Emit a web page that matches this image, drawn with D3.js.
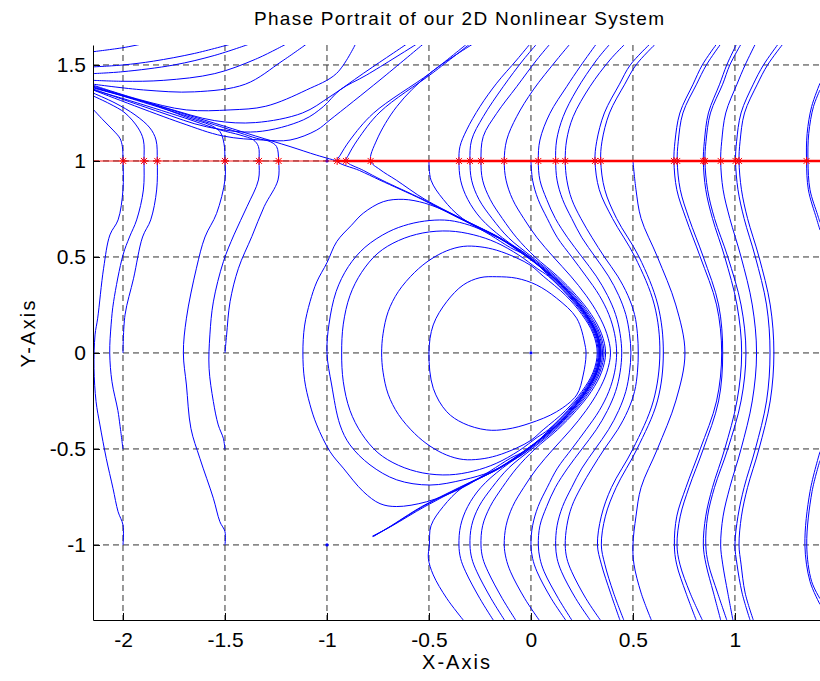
<!DOCTYPE html>
<html>
<head>
<meta charset="utf-8">
<title>Phase Portrait</title>
<script src="https://d3js.org/d3.v7.min.js"></script>
<style>
  body { margin: 0; background: #fff; }
  svg  { display: block; }
  text { font-family: Arial, "Liberation Sans", Helvetica, sans-serif; fill: #000; }
</style>
</head>
<body>
<svg id="chart" width="820" height="681"></svg>
<script>
/* ---------- axis limits & ticks ---------- */
const xLimits = [-2.147, 1.417];
const yLimits = [-1.391, 1.604];
const xTicks  = [-2, -1.5, -1, -0.5, 0, 0.5, 1];
const yTicks  = [-1, -0.5, 0, 0.5, 1, 1.5];

/* ---------- y = 1 crossings (red stars) and equilibria ---------- */
const starX = [-1.999, -1.897, -1.832, -1.5, -1.333, -1.237, -0.95, -0.907, -0.786,
               -0.353, -0.299, -0.245, -0.131, 0.036, 0.121, 0.168, 0.314, 0.342,
               0.701, 0.717, 0.845, 0.853, 0.93, 1.003, 1.02, 1.351];
const starY  = 1;
const equilX = [0, -1, -1];
const equilY = [0, 1, -1];

/* ---------- left family (rising, bending to the upper left) ---------- */
const L1 = [[-2,-1],[-2,-0.896],[-2.024,-0.827],[-2.049,-0.705],[-2.082,-0.549],[-2.113,-0.375],[-2.132,-0.253],[-2.142,-0.08],[-2.137,0.094],[-2.124,0.181],[-2.095,0.441],[-2.064,0.615],[-2.024,0.693],[-2.0,0.849],[-2.0,1.0],[-2.003,1.075],[-2.015,1.118],[-2.049,1.161],[-2.098,1.214],[-2.147,1.27]];
const L2 = [[-2,-0.501],[-2.015,-0.375],[-2.025,-0.3],[-2.054,-0.15],[-2.065,0],[-2.058,0.15],[-2.046,0.267],[-2.0,0.51],[-1.968,0.604],[-1.933,0.693],[-1.9,0.849],[-1.897,1.0],[-1.9,1.109],[-1.926,1.172],[-1.99,1.25],[-2.064,1.297],[-2.147,1.339]];
const L3 = [[-2,0],[-1.99,0.198],[-1.948,0.389],[-1.904,0.604],[-1.864,0.693],[-1.835,0.849],[-1.832,1.0],[-1.838,1.109],[-1.868,1.172],[-1.941,1.24],[-2.039,1.302],[-2.147,1.354]];
const L4 = [[-1.5,-1],[-1.5,-0.931],[-1.525,-0.879],[-1.557,-0.757],[-1.623,-0.549],[-1.667,-0.393],[-1.689,-0.167],[-1.704,0],[-1.689,0.181],[-1.64,0.441],[-1.598,0.604],[-1.541,0.727],[-1.5,0.901],[-1.5,1.0],[-1.505,1.092],[-1.525,1.153],[-1.574,1.188],[-1.672,1.222],[-1.868,1.299],[-2.147,1.383]];
const L5 = [[-1.5,-0.502],[-1.508,-0.445],[-1.533,-0.375],[-1.557,-0.253],[-1.578,-0.08],[-1.574,0.094],[-1.557,0.266],[-1.508,0.475],[-1.456,0.615],[-1.392,0.762],[-1.336,0.901],[-1.333,1.0],[-1.336,1.075],[-1.36,1.109],[-1.426,1.135],[-1.525,1.162],[-1.7,1.225],[-2.0,1.325],[-2.147,1.37]];
const L6 = [[-1.5,0],[-1.492,0.094],[-1.475,0.267],[-1.434,0.441],[-1.368,0.607],[-1.308,0.762],[-1.24,0.901],[-1.237,1.0],[-1.247,1.075],[-1.279,1.101],[-1.345,1.118],[-1.426,1.146],[-1.6,1.205],[-1.9,1.305],[-2.147,1.385]];
const S1 = [[-0.95,1.0],[-1.05,1.03],[-1.181,1.075],[-1.35,1.13],[-1.5,1.18],[-1.7,1.245],[-1.9,1.31],[-2.147,1.38]];

/* ---------- upper-left family (enter at top, leave at left edge) ---------- */
const U1 = [[-1.908,1.609],[-2.0,1.59],[-2.147,1.569]];
const U2 = [[-1.47,1.609],[-1.65,1.56],[-1.85,1.52],[-2.0,1.5],[-2.147,1.49]];
const U3 = [[-1.38,1.609],[-1.55,1.55],[-1.75,1.5],[-2.0,1.465],[-2.147,1.455]];
const U4 = [[-1.2,1.609],[-1.35,1.53],[-1.55,1.455],[-1.8,1.42],[-2.0,1.415],[-2.147,1.42]];
const U5 = [[-1.1,1.609],[-1.22,1.52],[-1.4,1.4],[-1.65,1.36],[-1.9,1.37],[-2.147,1.4]];
const U6 = [[-0.86,1.609],[-0.953,1.456],[-1.1,1.37],[-1.3,1.285],[-1.475,1.266],[-1.69,1.266],[-1.92,1.32],[-2.147,1.395]];
const U7 = [[-0.609,1.609],[-0.822,1.456],[-0.985,1.335],[-1.12,1.25],[-1.35,1.2],[-1.55,1.21],[-1.8,1.28],[-2.147,1.39]];
const U8 = [[-0.56,1.609],[-0.805,1.448],[-0.936,1.37],[-1.018,1.283],[-1.116,1.214],[-1.345,1.152],[-1.59,1.178],[-1.82,1.255],[-2.147,1.375]];
const U9 = [[-0.528,1.609],[-0.74,1.422],[-0.985,1.214],[-1.05,1.161],[-1.181,1.109],[-1.312,1.109],[-1.51,1.13],[-1.72,1.2],[-2.147,1.37]];

/* ---------- separatrix-hugging curves (V at the saddle near (-1,1)) ---------- */
const V1 = [[-0.315,1.609],[-0.495,1.457],[-0.773,1.248],[-0.887,1.109],[-0.935,1.03],[-0.95,1],[-0.84,0.95],[-0.74,0.9],[-0.535,0.8],[-0.35,0.7],[-0.16,0.6],[-0.02,0.5],[0.1,0.4],[0.195,0.3],[0.268,0.2],[0.32,0.1],[0.338,0],[0.32,-0.1],[0.268,-0.2],[0.195,-0.3],[0.1,-0.4],[-0.02,-0.5],[-0.16,-0.6],[-0.35,-0.7],[-0.535,-0.8],[-0.7,-0.91],[-0.775,-0.957]];
const V2 = [[-0.3,1.609],[-0.48,1.46],[-0.74,1.255],[-0.85,1.11],[-0.895,1.03],[-0.907,1],[-0.82,0.95],[-0.73,0.9],[-0.53,0.8],[-0.345,0.7],[-0.157,0.6],[-0.017,0.5],[0.103,0.4],[0.197,0.3],[0.271,0.2],[0.323,0.1],[0.341,0],[0.323,-0.1],[0.271,-0.2],[0.197,-0.3],[0.103,-0.4],[-0.017,-0.5],[-0.157,-0.6],[-0.345,-0.7],[-0.53,-0.8],[-0.69,-0.905],[-0.772,-0.955]];
const V3 = [[-0.285,1.609],[-0.495,1.457],[-0.658,1.283],[-0.756,1.109],[-0.786,1],[-0.74,0.955],[-0.66,0.9],[-0.52,0.8],[-0.34,0.7],[-0.155,0.6],[-0.016,0.5],[0.104,0.4],[0.198,0.3],[0.272,0.2],[0.324,0.1],[0.342,0],[0.324,-0.1],[0.272,-0.2],[0.198,-0.3],[0.104,-0.4],[-0.016,-0.5],[-0.155,-0.6],[-0.34,-0.7],[-0.52,-0.8],[-0.68,-0.9],[-0.778,-0.955]];

/* ---------- curves through the y = 1 stars between -0.5 and 0.2 ---------- */
const M1 = [[-0.5,1],[-0.49,0.9],[-0.43,0.8],[-0.335,0.7],[-0.152,0.6],[-0.014,0.5],[0.106,0.4],[0.2,0.3],[0.274,0.2],[0.326,0.1],[0.345,0],[0.326,-0.1],[0.274,-0.2],[0.2,-0.3],[0.106,-0.4],[-0.014,-0.5],[-0.152,-0.6],[-0.335,-0.7],[-0.43,-0.8],[-0.49,-0.9],[-0.498,-1],[-0.503,-1.07],[-0.479,-1.156],[-0.413,-1.278],[-0.332,-1.391]];
const M2 = [[-0.005,1.609],[-0.07,1.526],[-0.168,1.405],[-0.25,1.283],[-0.315,1.162],[-0.348,1.075],[-0.353,1],[-0.345,0.9],[-0.31,0.8],[-0.245,0.7],[-0.14,0.6],[-0.005,0.5],[0.112,0.4],[0.206,0.3],[0.28,0.2],[0.332,0.1],[0.351,0],[0.332,-0.1],[0.28,-0.2],[0.206,-0.3],[0.112,-0.4],[-0.005,-0.5],[-0.14,-0.6],[-0.245,-0.7],[-0.31,-0.8],[-0.345,-0.9],[-0.353,-1],[-0.345,-1.07],[-0.32,-1.14],[-0.25,-1.28],[-0.185,-1.391]];
const M3 = [[0.028,1.609],[-0.038,1.526],[-0.136,1.387],[-0.234,1.231],[-0.291,1.109],[-0.299,1],[-0.291,0.9],[-0.255,0.8],[-0.19,0.7],[-0.11,0.6],[0.005,0.5],[0.12,0.4],[0.213,0.3],[0.287,0.2],[0.338,0.1],[0.358,0],[0.338,-0.1],[0.287,-0.2],[0.213,-0.3],[0.12,-0.4],[0.005,-0.5],[-0.11,-0.6],[-0.19,-0.7],[-0.255,-0.8],[-0.291,-0.9],[-0.299,-1],[-0.29,-1.07],[-0.265,-1.14],[-0.195,-1.28],[-0.13,-1.391]];
const M4 = [[0.093,1.609],[0.028,1.526],[-0.07,1.387],[-0.168,1.248],[-0.234,1.127],[-0.245,1],[-0.237,0.9],[-0.2,0.8],[-0.14,0.7],[-0.07,0.6],[0.02,0.5],[0.13,0.4],[0.222,0.3],[0.296,0.2],[0.346,0.1],[0.366,0],[0.346,-0.1],[0.296,-0.2],[0.222,-0.3],[0.13,-0.4],[0.02,-0.5],[-0.07,-0.6],[-0.14,-0.7],[-0.2,-0.8],[-0.237,-0.9],[-0.245,-1],[-0.236,-1.07],[-0.21,-1.14],[-0.14,-1.28],[-0.075,-1.391]];
const M5 = [[0.191,1.609],[0.126,1.526],[0.011,1.37],[-0.07,1.231],[-0.119,1.109],[-0.131,1],[-0.122,0.9],[-0.09,0.8],[-0.035,0.7],[0.03,0.6],[0.11,0.5],[0.195,0.4],[0.27,0.3],[0.33,0.2],[0.372,0.1],[0.39,0],[0.372,-0.1],[0.33,-0.2],[0.27,-0.3],[0.195,-0.4],[0.11,-0.5],[0.03,-0.6],[-0.035,-0.7],[-0.09,-0.8],[-0.122,-0.9],[-0.131,-1],[-0.122,-1.07],[-0.1,-1.14],[-0.03,-1.28],[0.04,-1.391]];
const M6 = [[0,1],[0.008,0.9],[0.035,0.8],[0.08,0.7],[0.13,0.6],[0.2,0.5],[0.27,0.4],[0.335,0.3],[0.382,0.2],[0.41,0.1],[0.42,0],[0.41,-0.1],[0.382,-0.2],[0.335,-0.3],[0.27,-0.4],[0.2,-0.5],[0.13,-0.6],[0.08,-0.7],[0.035,-0.8],[0.008,-0.9],[0,-1],[0.008,-1.07],[0.03,-1.14],[0.1,-1.28],[0.17,-1.391]];
const M7 = [[0.32,1.609],[0.24,1.49],[0.175,1.387],[0.093,1.248],[0.044,1.109],[0.036,1],[0.044,0.9],[0.077,0.8],[0.12,0.7],[0.18,0.6],[0.25,0.5],[0.32,0.4],[0.375,0.3],[0.415,0.2],[0.437,0.1],[0.445,0],[0.437,-0.1],[0.415,-0.2],[0.375,-0.3],[0.32,-0.4],[0.25,-0.5],[0.18,-0.6],[0.12,-0.7],[0.077,-0.8],[0.044,-0.9],[0.036,-1],[0.044,-1.07],[0.065,-1.14],[0.135,-1.28],[0.2,-1.391]];
const M8 = [[0.387,1.609],[0.322,1.526],[0.224,1.37],[0.158,1.231],[0.126,1.109],[0.121,1],[0.128,0.9],[0.155,0.8],[0.2,0.7],[0.25,0.6],[0.315,0.5],[0.38,0.4],[0.43,0.3],[0.465,0.2],[0.483,0.1],[0.49,0],[0.483,-0.1],[0.465,-0.2],[0.43,-0.3],[0.38,-0.4],[0.315,-0.5],[0.25,-0.6],[0.2,-0.7],[0.155,-0.8],[0.128,-0.9],[0.121,-1],[0.128,-1.07],[0.15,-1.14],[0.22,-1.28],[0.29,-1.391]];
const M9 = [[0.461,1.609],[0.387,1.526],[0.289,1.387],[0.207,1.231],[0.175,1.109],[0.168,1],[0.176,0.9],[0.2,0.8],[0.245,0.7],[0.3,0.6],[0.36,0.5],[0.425,0.4],[0.475,0.3],[0.508,0.2],[0.522,0.1],[0.526,0],[0.522,-0.1],[0.508,-0.2],[0.475,-0.3],[0.425,-0.4],[0.36,-0.5],[0.3,-0.6],[0.245,-0.7],[0.2,-0.8],[0.176,-0.9],[0.168,-1],[0.176,-1.07],[0.2,-1.14],[0.27,-1.28],[0.34,-1.391]];

/* ---------- closed orbits around the centre ---------- */
const R1 = [[-0.5,0],[-0.479,0.146],[-0.413,0.267],[-0.332,0.354],[-0.25,0.392],[-0.168,0.397],[-0.07,0.389],[0.028,0.354],[0.126,0.285],[0.224,0.181],[0.265,0.042],[0.27,-0.01],[0.256,-0.115],[0.224,-0.219],[0.126,-0.306],[-0.005,-0.366],[-0.119,-0.397],[-0.217,-0.401],[-0.332,-0.366],[-0.413,-0.306],[-0.479,-0.184]];
const R2 = [[-0.732,0],[-0.725,0.1],[-0.7,0.215],[-0.65,0.32],[-0.57,0.42],[-0.495,0.485],[-0.413,0.532],[-0.332,0.555],[-0.25,0.553],[-0.168,0.535],[-0.07,0.495],[0.0,0.455],[0.06,0.4],[0.17,0.3],[0.25,0.2],[0.305,0.1],[0.325,0],[0.305,-0.1],[0.25,-0.2],[0.17,-0.3],[0.06,-0.4],[0.0,-0.455],[-0.07,-0.495],[-0.168,-0.535],[-0.25,-0.553],[-0.332,-0.555],[-0.413,-0.532],[-0.495,-0.485],[-0.57,-0.42],[-0.65,-0.32],[-0.7,-0.215],[-0.725,-0.1]];
const R3 = [[-0.928,0],[-0.92,0.15],[-0.887,0.3],[-0.83,0.42],[-0.75,0.52],[-0.65,0.585],[-0.53,0.625],[-0.4,0.635],[-0.28,0.615],[-0.17,0.575],[-0.06,0.51],[0.03,0.44],[0.085,0.4],[0.18,0.3],[0.257,0.2],[0.31,0.1],[0.33,0],[0.31,-0.1],[0.257,-0.2],[0.18,-0.3],[0.085,-0.4],[0.03,-0.44],[-0.06,-0.51],[-0.17,-0.575],[-0.28,-0.615],[-0.4,-0.635],[-0.53,-0.625],[-0.65,-0.585],[-0.75,-0.52],[-0.83,-0.42],[-0.887,-0.3],[-0.92,-0.15]];
const R4 = [[-1.0,0],[-0.99,0.15],[-0.955,0.32],[-0.895,0.45],[-0.814,0.55],[-0.7,0.63],[-0.6,0.67],[-0.495,0.69],[-0.4,0.69],[-0.3,0.665],[-0.2,0.62],[-0.1,0.565],[-0.03,0.52],[0.09,0.4],[0.185,0.3],[0.262,0.2],[0.315,0.1],[0.334,0],[0.315,-0.1],[0.262,-0.2],[0.185,-0.3],[0.09,-0.4],[-0.03,-0.52],[-0.1,-0.565],[-0.2,-0.62],[-0.332,-0.661],[-0.495,-0.688],[-0.658,-0.661],[-0.789,-0.583],[-0.887,-0.479],[-0.936,-0.375],[-0.977,-0.167]];
const R5 = [[-1.118,0],[-1.11,0.14],[-1.083,0.267],[-1.05,0.37],[-1.0,0.47],[-0.952,0.58],[-0.88,0.665],[-0.822,0.728],[-0.724,0.788],[-0.626,0.8],[-0.52,0.78],[-0.4,0.73],[-0.3,0.675],[-0.2,0.615],[-0.1,0.548],[-0.03,0.51],[0.095,0.4],[0.19,0.3],[0.265,0.2],[0.318,0.1],[0.336,0],[0.318,-0.1],[0.265,-0.2],[0.19,-0.3],[0.095,-0.4],[-0.03,-0.51],[-0.1,-0.548],[-0.2,-0.615],[-0.332,-0.7],[-0.511,-0.775],[-0.658,-0.8],[-0.74,-0.785],[-0.822,-0.722],[-0.92,-0.6],[-0.985,-0.514],[-1.05,-0.375],[-1.083,-0.27],[-1.11,-0.14]];

/* ---------- right family: x read at fixed y levels ---------- */
const rightLevels = [1.609, 1.5, 1.4, 1.25, 1.1, 1.0, 0.85, 0.7, 0.5, 0.25, 0, -0.25, -0.5, -0.7, -0.85, -1.0, -1.1, -1.25, -1.391];
const P1x  = [0.583, 0.487, 0.434, 0.36, 0.322, 0.314, 0.335, 0.4, 0.51, 0.605, 0.632, 0.6, 0.5, 0.395, 0.345, 0.326, 0.345, 0.39, 0.436];
const P2x  = [0.61, 0.515, 0.46, 0.385, 0.348, 0.342, 0.362, 0.42, 0.53, 0.622, 0.649, 0.62, 0.52, 0.418, 0.365, 0.345, 0.362, 0.405, 0.455];
const Ra1x = [0.91, 0.84, 0.795, 0.73, 0.706, 0.701, 0.715, 0.76, 0.83, 0.91, 0.935, 0.91, 0.83, 0.76, 0.715, 0.703, 0.714, 0.76, 0.81];
const Ra2x = [0.93, 0.86, 0.812, 0.745, 0.722, 0.717, 0.732, 0.775, 0.845, 0.92, 0.94, 0.92, 0.845, 0.775, 0.732, 0.716, 0.73, 0.78, 0.84];
const Rb1x = [1.008, 0.96, 0.925, 0.87, 0.85, 0.845, 0.857, 0.89, 0.95, 1.01, 1.033, 1.01, 0.95, 0.89, 0.857, 0.845, 0.858, 0.895, 0.93];
const Rb2x = [1.03, 0.975, 0.94, 0.88, 0.858, 0.853, 0.866, 0.9, 0.965, 1.03, 1.054, 1.03, 0.965, 0.9, 0.866, 0.857, 0.87, 0.915, 0.96];
const Rcx  = [1.1, 1.05, 1.01, 0.955, 0.935, 0.93, 0.942, 0.975, 1.03, 1.085, 1.106, 1.085, 1.03, 0.975, 0.942, 0.93, 0.94, 0.965, 0.99];
const Rd1x = [1.212, 1.14, 1.09, 1.03, 1.008, 1.003, 1.015, 1.045, 1.1, 1.155, 1.172, 1.155, 1.1, 1.045, 1.015, 1.0, 1.01, 1.035, 1.074];
const Rd2x = [1.235, 1.16, 1.11, 1.047, 1.025, 1.02, 1.032, 1.062, 1.118, 1.173, 1.191, 1.173, 1.118, 1.062, 1.032, 1.02, 1.03, 1.05, 1.09];
const C05  = [[0.5,1],[0.515,0.85],[0.54,0.7],[0.62,0.5],[0.71,0.25],[0.755,0],[0.71,-0.25],[0.62,-0.5],[0.54,-0.7],[0.515,-0.85],[0.5,-1],[0.505,-1.1],[0.54,-1.25],[0.59,-1.391]];
const Re1a = [[1.417,1.405],[1.376,1.283],[1.354,1.144],[1.351,1],[1.36,0.85],[1.4,0.7],[1.417,0.64]];
const Re2a = [[1.417,1.37],[1.385,1.283],[1.362,1.144],[1.358,1],[1.368,0.85],[1.405,0.72],[1.417,0.68]];
const Re1b = [[1.417,-0.514],[1.368,-0.722],[1.343,-1.0],[1.368,-1.19],[1.417,-1.31]];
const Re2b = [[1.417,-0.56],[1.378,-0.722],[1.352,-1.0],[1.376,-1.19],[1.417,-1.28]];

/* ---------- build ---------- */
const svg = d3.select("#chart");
const x = d3.scaleLinear().domain(xLimits).range([93, 820]);
const y = d3.scaleLinear().domain(yLimits).range([620, 45]);

const colX = xs => rightLevels.map((lv, i) => [xs[i], lv]);
const openCurves = [L1, L2, L3, L4, L5, L6, S1, U1, U2, U3, U4, U5, U6, U7, U8, U9,
  V1, V2, V3, M1, M2, M3, M4, M5, M6, M7, M8, M9, C05,
  colX(P1x), colX(P2x), colX(Ra1x), colX(Ra2x), colX(Rb1x), colX(Rb2x),
  colX(Rcx), colX(Rd1x), colX(Rd2x), Re1a, Re2a, Re1b, Re2b];
const closedCurves = [R1, R2, R3, R4, R5];

svg.append("defs").append("clipPath").attr("id", "plotclip")
  .append("rect").attr("x", 93).attr("y", 45).attr("width", 727).attr("height", 575);

/* grid */
const grid = svg.append("g").attr("stroke", "#333").attr("stroke-dasharray", "6,4").attr("stroke-width", 1);
grid.selectAll("line.vx").data(xTicks).enter().append("line")
  .attr("x1", d => x(d)).attr("x2", d => x(d)).attr("y1", 45).attr("y2", 620);
grid.selectAll("line.hy").data(yTicks).enter().append("line")
  .attr("x1", 93).attr("x2", 820).attr("y1", d => y(d)).attr("y2", d => y(d));

/* trajectories */
const plot = svg.append("g").attr("clip-path", "url(#plotclip)");
const line = d3.line().x(d => x(d[0])).y(d => y(d[1])).curve(d3.curveCatmullRom.alpha(0.5));
const loop = d3.line().x(d => x(d[0])).y(d => y(d[1])).curve(d3.curveCatmullRomClosed.alpha(0.5));
plot.selectAll("path.traj").data(openCurves).enter().append("path")
  .attr("d", line).attr("fill", "none").attr("stroke", "#0000ff").attr("stroke-width", 1);
plot.selectAll("path.loop").data(closedCurves).enter().append("path")
  .attr("d", loop).attr("fill", "none").attr("stroke", "#0000ff").attr("stroke-width", 1);

/* equilibria */
plot.selectAll("circle.eq").data(equilX).enter().append("circle")
  .attr("cx", d => x(d)).attr("cy", (d, i) => y(equilY[i])).attr("r", 1.6).attr("fill", "#0000ff");

/* red line through the stars: thin on the left, heavy on the right */
plot.append("line").attr("x1", x(xLimits[0])).attr("x2", x(starX[6]))
  .attr("y1", y(starY)).attr("y2", y(starY))
  .attr("stroke", "#ff0000").attr("stroke-width", 1.6).attr("stroke-opacity", 0.6);
plot.append("line").attr("x1", x(starX[6])).attr("x2", x(xLimits[1]))
  .attr("y1", y(starY)).attr("y2", y(starY))
  .attr("stroke", "#ff0000").attr("stroke-width", 2.4);
plot.selectAll("path.star").data(starX).enter().append("path")
  .attr("transform", d => `translate(${x(d)},${y(starY)})`)
  .attr("d", "M-4,0H4M0,-4V4M-3,-3L3,3M-3,3L3,-3")
  .attr("stroke", "#ff0000").attr("stroke-width", 1).attr("fill", "none");

/* axes */
const xAxis = d3.axisBottom(x).tickValues(xTicks).tickFormat(d => String(d))
  .tickSizeInner(-7).tickSizeOuter(0).tickPadding(12);
const yAxis = d3.axisLeft(y).tickValues(yTicks).tickFormat(d => String(d))
  .tickSizeInner(-7).tickSizeOuter(0).tickPadding(7);
const gx = svg.append("g").attr("transform", "translate(0,620)").call(xAxis);
const gy = svg.append("g").attr("transform", "translate(93,0)").call(yAxis);
[gx, gy].forEach(g => {
  g.select(".domain").attr("stroke", "#000");
  g.selectAll(".tick line").attr("stroke", "#000");
  g.selectAll(".tick text").attr("font-size", 21).attr("fill", "#000")
    .attr("font-family", "Arial, 'Liberation Sans', sans-serif");
});

/* labels */
svg.append("text").attr("x", 459).attr("y", 25).attr("text-anchor", "middle")
  .attr("font-size", 19).attr("textLength", 410).attr("lengthAdjust", "spacing")
  .text("Phase Portrait of our 2D Nonlinear System");
svg.append("text").attr("x", 456).attr("y", 669).attr("text-anchor", "middle")
  .attr("font-size", 20).attr("textLength", 68).attr("lengthAdjust", "spacing")
  .text("X-Axis");
svg.append("text").attr("transform", "translate(35,334) rotate(-90)").attr("text-anchor", "middle")
  .attr("font-size", 20).attr("textLength", 67).attr("lengthAdjust", "spacing")
  .text("Y-Axis");
</script>
</body>
</html>
